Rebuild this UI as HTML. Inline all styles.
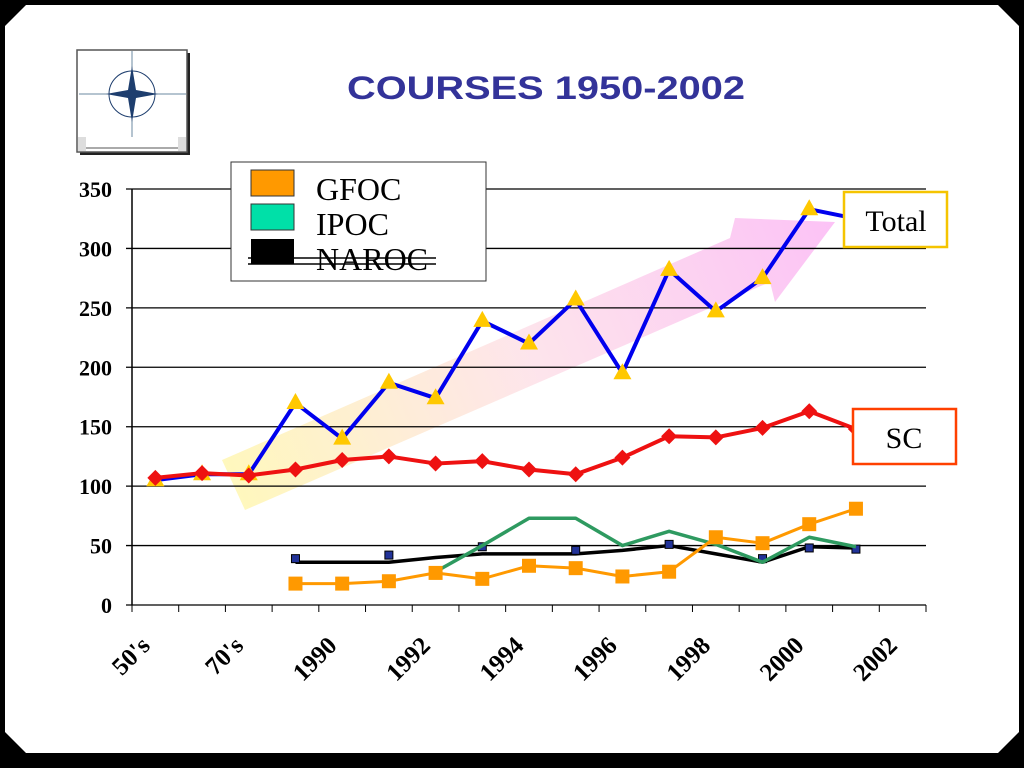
<!DOCTYPE html>
<html><head><meta charset="utf-8"><style>
body{margin:0;width:1024px;height:768px;background:#000;overflow:hidden;font-family:"Liberation Serif",serif}
#slide{position:absolute;left:2px;top:2px;width:1020px;height:754px;background:#000;clip-path:polygon(22px 0,998px 0,1020px 22px,1020px 732px,998px 754px,22px 754px,0 732px,0 22px)}
#inner{position:absolute;left:3px;top:3px;width:1014px;height:748px;background:#fff;clip-path:polygon(21px 0,993px 0,1014px 21px,1014px 727px,993px 748px,21px 748px,0 727px,0 21px)}
svg{position:absolute;left:0;top:0}
</style></head><body>
<div id="slide"><div id="inner"></div></div>
<svg id="c" width="1024" height="768">
<defs>
<linearGradient id="ag" x1="220" y1="480" x2="830" y2="220" gradientUnits="userSpaceOnUse">
<stop offset="0" stop-color="#fff7b0"/><stop offset="0.5" stop-color="#fde0e8"/><stop offset="1" stop-color="#fbb8f4"/></linearGradient>
</defs>
<g>
<rect x="80" y="53" width="110" height="102" fill="#222"/>
<rect x="77" y="50" width="110" height="102" fill="#fff" stroke="#555" stroke-width="1.5"/>
<rect x="78" y="137" width="8" height="14" fill="#ddd"/><rect x="178" y="137" width="8" height="14" fill="#ddd"/>
<line x1="86" y1="148" x2="178" y2="148" stroke="#555"/>
<line x1="79" y1="94" x2="186" y2="94" stroke="#6b88a0"/><line x1="132" y1="51" x2="132" y2="137" stroke="#6b88a0"/>
<circle cx="132" cy="94" r="23" fill="none" stroke="#1e3e6e"/>
<polygon points="132,66 136,90 158,94 136,98 132,122 128,98 106,94 128,90" fill="#1e3e6e"/>
</g>
<text x="347" y="99" textLength="398" lengthAdjust="spacingAndGlyphs" font-family="Liberation Sans,sans-serif" font-weight="bold" font-size="32" fill="#333399">COURSES 1950-2002</text>
<polygon points="222,460 730,238 735,218 835,222 775,302 770,282 245,510" fill="url(#ag)" opacity="0.85"/>
<g id="grid"></g><g id="axes"></g><g id="series"></g>
<g>
<rect x="231" y="162" width="255" height="119" fill="#fff" stroke="#333"/>
<rect x="251" y="170" width="43" height="26" fill="#ff9900" stroke="#333"/>
<text x="316" y="200" font-size="32">GFOC</text>
<rect x="251" y="204" width="43" height="26" fill="#00e0a8" stroke="#333"/>
<text x="316" y="235" font-size="32">IPOC</text>
<line x1="248" y1="258" x2="436" y2="258" stroke="#000" stroke-width="1.5"/>
<line x1="248" y1="264" x2="436" y2="264" stroke="#000" stroke-width="1.5"/>
<rect x="251" y="239" width="43" height="25" fill="#000"/>
<text x="316" y="270" font-size="32">NAROC</text>
</g>
<g><rect x="844" y="192" width="103" height="55" fill="#fff" stroke="#f5c400" stroke-width="2.5"/><text x="896" y="231" text-anchor="middle" font-size="30">Total</text></g>
<g><rect x="853" y="409" width="103" height="55" fill="#fff" stroke="#ff4000" stroke-width="2.5"/><text x="904" y="448" text-anchor="middle" font-size="30">SC</text></g>
</svg>
<script>
const categories=["50's","60's","70's","80's","1990","1991","1992","1993","1994","1995","1996","1997","1998","1999","2000","2001","2002"];
const yTicks=[0,50,100,150,200,250,300,350];
const total=[105,110,110,170,140,187,174,239,220,257,195,282,247,275,333,325,null];
const sc=[107,111,109,114,122,125,119,121,114,110,124,142,141,149,163,148,null];
const gfoc=[null,null,null,18,18,20,27,22,33,31,24,28,57,52,68,81,null];
const ipoc=[null,null,null,null,null,null,28,50,73,73,50,62,51,36,57,49,null];
const naroc=[null,null,null,36,36,36,40,43,43,43,46,50,43,36,49,48,null];
const narocMarks=[null,null,null,39,null,42,null,49,null,46,null,51,null,39,48,47,null];
const X0=132,X1=926,Y0=605,Y1=189,NS="http://www.w3.org/2000/svg";
const bw=(X1-X0)/categories.length;
const x=i=>X0+bw*(i+0.5), y=v=>Y0-(v/350)*(Y0-Y1);
function mk(t,a,p){const e=document.createElementNS(NS,t);for(const k in a)e.setAttribute(k,a[k]);(p||document.getElementById('series')).appendChild(e);return e;}
const grid=document.getElementById('grid'),axes=document.getElementById('axes');
yTicks.forEach(v=>{
 const l=mk('line',{x1:126,x2:X1,y1:y(v),y2:y(v),stroke:'#000','stroke-width':1.3},grid);
 
 
 const t=mk('text',{x:112,y:y(v)+8,'text-anchor':'end','font-size':22,'font-weight':'bold'},axes);
 t.textContent=v;
 
 
});
mk('line',{x1:X0,x2:X0,y1:Y1,y2:Y0,stroke:'#000','stroke-width':1.5},axes);
for(let i=0;i<=categories.length;i++) mk('line',{x1:X0+bw*i,x2:X0+bw*i,y1:Y0,y2:Y0+7,stroke:'#000'},axes);
categories.forEach((c,i)=>{ if(i%2) return;
 const t=mk('text',{transform:`translate(${x(i)-4},${Y0+42}) rotate(-45)`,'text-anchor':'end','font-size':25,'font-weight':'bold'},axes);
 t.textContent=c;
 
 
});
function line(d,col,w,name){let p='';d.forEach((v,i)=>{if(v==null)return;p+=(p?'L':'M')+x(i)+','+y(v);});
 const e=mk('path',{d:p,fill:'none',stroke:col,'stroke-width':w,'stroke-linejoin':'round'});
 
 }
line(naroc,'#000',3.5,'naroc-line');
narocMarks.forEach((v,i)=>{if(v==null)return;const e=mk('rect',{x:x(i)-4,y:y(v)-4,width:8,height:8,fill:'#223399',stroke:'#000'});
 
 });
line(ipoc,'#2e9a60',3.5,'ipoc-line');
line(gfoc,'#ff9900',3,'gfoc-line');
gfoc.forEach((v,i)=>{if(v==null)return;const e=mk('rect',{x:x(i)-7,y:y(v)-7,width:14,height:14,fill:'#ff9900'});
 
 });
line(total,'#0000ee',4,'total-line');
total.forEach((v,i)=>{if(v==null)return;const e=mk('polygon',{points:`${x(i)},${y(v)-10} ${x(i)+9},${y(v)+6} ${x(i)-9},${y(v)+6}`,fill:'#ffc800'});
 
 });
line(sc,'#ee1111',4,'sc-line');
sc.forEach((v,i)=>{if(v==null)return;const e=mk('polygon',{points:`${x(i)},${y(v)-8} ${x(i)+8},${y(v)} ${x(i)},${y(v)+8} ${x(i)-8},${y(v)}`,fill:'#ee1111'});
 
 });
</script>
</body></html>
